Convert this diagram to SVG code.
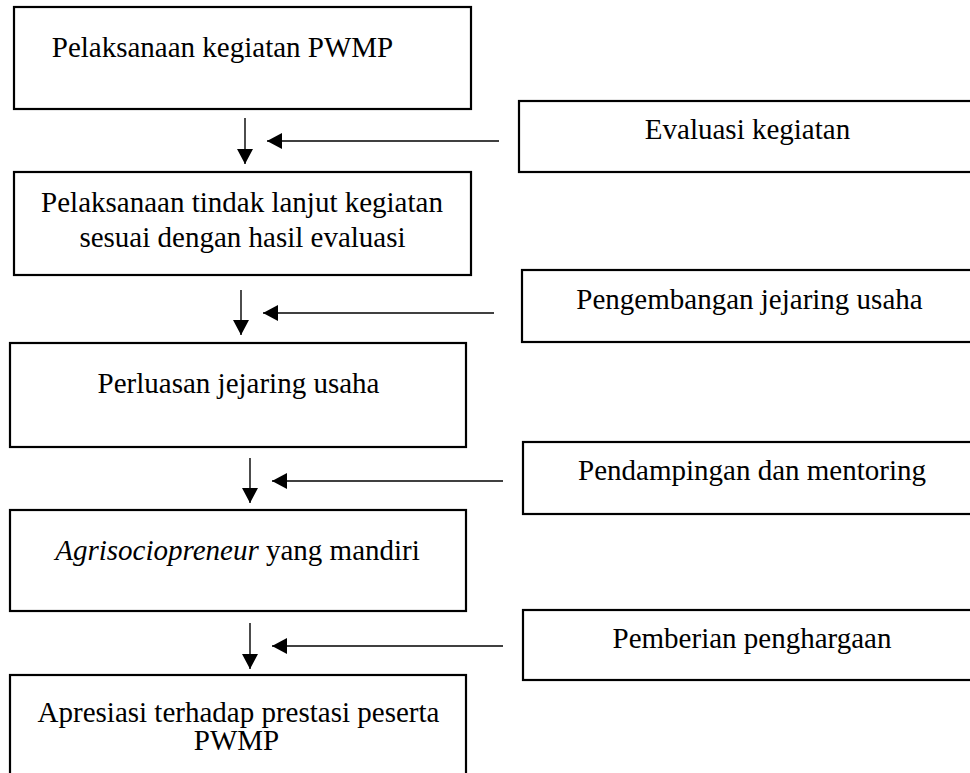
<svg xmlns="http://www.w3.org/2000/svg" width="970" height="773" viewBox="0 0 970 773">
  <style>
    .box { fill: #ffffff; stroke: #000000; stroke-width: 2.2; }
    .lbl { font-family: "Liberation Serif", "Times New Roman", serif; font-size: 29px; fill: #000000; text-anchor: middle; }
    .conn { stroke: #000000; stroke-width: 1.4; fill: none; marker-end: url(#head); }
  </style>
  <defs>
    <marker id="head" viewBox="0 0 15 16" markerWidth="15" markerHeight="16" refX="15" refY="8" orient="auto" markerUnits="userSpaceOnUse">
      <path d="M0,0 L15,8 L0,16 z" fill="#000000"/>
    </marker>
  </defs>
  <rect width="970" height="773" fill="#ffffff"/>

  <!-- main flow -->
  <g id="step1">
    <rect class="box" x="14" y="7" width="457" height="102"/>
    <text class="lbl" x="222.5" y="57">Pelaksanaan kegiatan PWMP</text>
  </g>
  <g id="step2">
    <rect class="box" x="14" y="172" width="457" height="103"/>
    <text class="lbl" x="242" y="212">Pelaksanaan tindak lanjut kegiatan</text>
    <text class="lbl" x="242.5" y="247">sesuai dengan hasil evaluasi</text>
  </g>
  <g id="step3">
    <rect class="box" x="10" y="343" width="456" height="104"/>
    <text class="lbl" x="238.5" y="393">Perluasan jejaring usaha</text>
  </g>
  <g id="step4">
    <rect class="box" x="10" y="510" width="456" height="101"/>
    <text class="lbl" x="237.5" y="560"><tspan font-style="italic">Agrisociopreneur</tspan> yang mandiri</text>
  </g>
  <g id="step5">
    <rect class="box" x="10" y="675" width="456" height="110"/>
    <text class="lbl" x="238.5" y="722">Apresiasi terhadap prestasi peserta</text>
    <text class="lbl" x="236.5" y="750">PWMP</text>
  </g>

  <!-- supporting inputs -->
  <g id="input1">
    <rect class="box" x="519" y="101" width="460" height="71"/>
    <text class="lbl" x="747.5" y="139">Evaluasi kegiatan</text>
  </g>
  <g id="input2">
    <rect class="box" x="522" y="270" width="460" height="72"/>
    <text class="lbl" x="749.5" y="309">Pengembangan jejaring usaha</text>
  </g>
  <g id="input3">
    <rect class="box" x="523" y="442" width="460" height="72"/>
    <text class="lbl" x="752" y="480">Pendampingan dan mentoring</text>
  </g>
  <g id="input4">
    <rect class="box" x="523" y="610" width="460" height="70"/>
    <text class="lbl" x="752" y="648">Pemberian penghargaan</text>
  </g>

  <!-- connectors -->
  <g id="connectors">
    <line class="conn" x1="245" y1="118" x2="245" y2="164"/>
    <line class="conn" x1="499" y1="141" x2="267" y2="141"/>
    <line class="conn" x1="241" y1="290" x2="241" y2="335"/>
    <line class="conn" x1="494" y1="313" x2="263" y2="313"/>
    <line class="conn" x1="250" y1="458" x2="250" y2="503"/>
    <line class="conn" x1="503" y1="481" x2="272" y2="481"/>
    <line class="conn" x1="250" y1="623" x2="250" y2="669"/>
    <line class="conn" x1="503" y1="646" x2="272" y2="646"/>
  </g>
</svg>
